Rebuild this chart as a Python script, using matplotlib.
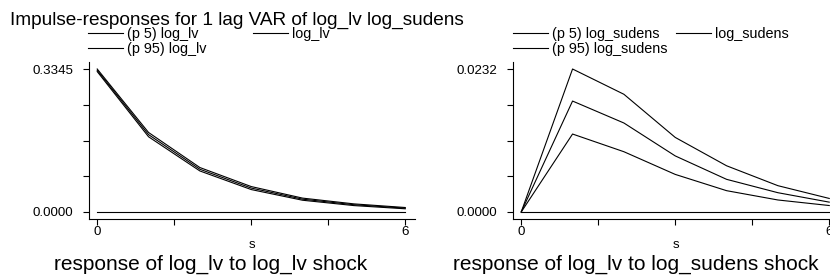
import matplotlib
matplotlib.use("Agg")
from matplotlib import pyplot as plt

# impulse-response steps
steps = [0, 1, 2, 3, 4, 5, 6]

# response of log_lv to log_lv shock
lv_p5 = [0.3285, 0.1760, 0.0960, 0.0525, 0.0275, 0.0150, 0.0075]
lv_irf = [0.3315, 0.1810, 0.1000, 0.0560, 0.0300, 0.0170, 0.0090]
lv_p95 = [0.3345, 0.1860, 0.1040, 0.0595, 0.0325, 0.0190, 0.0105]

# response of log_lv to log_sudens shock
su_p5 = [0.0, 0.01265, 0.00978, 0.0061, 0.00346, 0.00195, 0.00105]
su_irf = [0.0, 0.0180, 0.01444, 0.0091, 0.0053, 0.00313, 0.00160]
su_p95 = [0.0, 0.0232, 0.0191, 0.0121, 0.0075, 0.00427, 0.00220]

panels = [
    ("log_lv", lv_p5, lv_irf, lv_p95, "response of log_lv to log_lv shock"),
    ("log_sudens", su_p5, su_irf, su_p95, "response of log_lv to log_sudens shock"),
]

plt.rcParams['font.family'] = ['Liberation Sans', 'DejaVu Sans']

W, H = 830, 277
fig = plt.figure(figsize=(W / 100, H / 100), dpi=100)

def fx(px):
    return px / W

def fy(py):
    return 1 - py / H

# pixel boxes: left, top, right, bottom
boxes = [(89, 62, 415, 219), (513, 62, 839, 219)]
legend_x = [(88, 253), (513, 676)]
title_x = [211, 636]

fig.text(fx(10), fy(25), "Impulse-responses for 1 lag VAR of log_lv log_sudens",
         fontsize=13.7, ha='left', va='baseline')

for (name, p5, irf, p95, title), (l, t, r, b), (lx1, lx2), tx in zip(panels, boxes, legend_x, title_x):
    ax = fig.add_axes([fx(l), fy(b), fx(r - l), (b - t) / H])
    h5, = ax.plot(steps, p5, color='black', lw=0.8, label="(p 5) " + name)
    hi, = ax.plot(steps, irf, color='black', lw=0.8, label=name)
    h95, = ax.plot(steps, p95, color='black', lw=0.8, label="(p 95) " + name)
    ax.plot([steps[0], steps[-1]], [0, 0], color='black', lw=0.8)

    ymax = max(p95)
    ax.set_xlim(-0.16, 6.19)
    pad = ymax * 7 / 143
    ax.set_ylim(-pad, ymax + pad)

    ax.set_xticks([0, 1.5, 3, 4.5, 6])
    ax.set_xticklabels(["0", "", "", "", "6"])
    ax.set_yticks([0, ymax / 4, ymax / 2, 3 * ymax / 4, ymax])
    ax.set_yticklabels(["0.0000", "", "", "", "%.4f" % ymax])
    ax.tick_params(axis='y', direction='out', length=4.5, width=0.8, pad=7, labelsize=9.6)
    ax.tick_params(axis='x', direction='out', length=4, width=0.8, pad=1, labelsize=9.6)

    for side in ['top', 'right']:
        ax.spines[side].set_visible(False)
    for side in ['left', 'bottom']:
        ax.spines[side].set_linewidth(0.8)

    ax.set_xlabel("s", fontsize=9.5, labelpad=1)
    fig.text(fx(tx), fy(270), title, fontsize=15, ha='center', va='baseline')

    leg1 = ax.legend(handles=[h5, h95], loc='upper left',
                     bbox_to_anchor=(fx(lx1), fy(27)), bbox_transform=fig.transFigure,
                     frameon=False, fontsize=10.4, borderpad=0, borderaxespad=0,
                     handlelength=2.4, handletextpad=0.3, labelspacing=0.05)
    ax.add_artist(leg1)
    ax.legend(handles=[hi], loc='upper left',
              bbox_to_anchor=(fx(lx2), fy(27)), bbox_transform=fig.transFigure,
              frameon=False, fontsize=10.4, borderpad=0, borderaxespad=0,
              handlelength=2.4, handletextpad=0.3)

fig.savefig("out.png", dpi=100)
